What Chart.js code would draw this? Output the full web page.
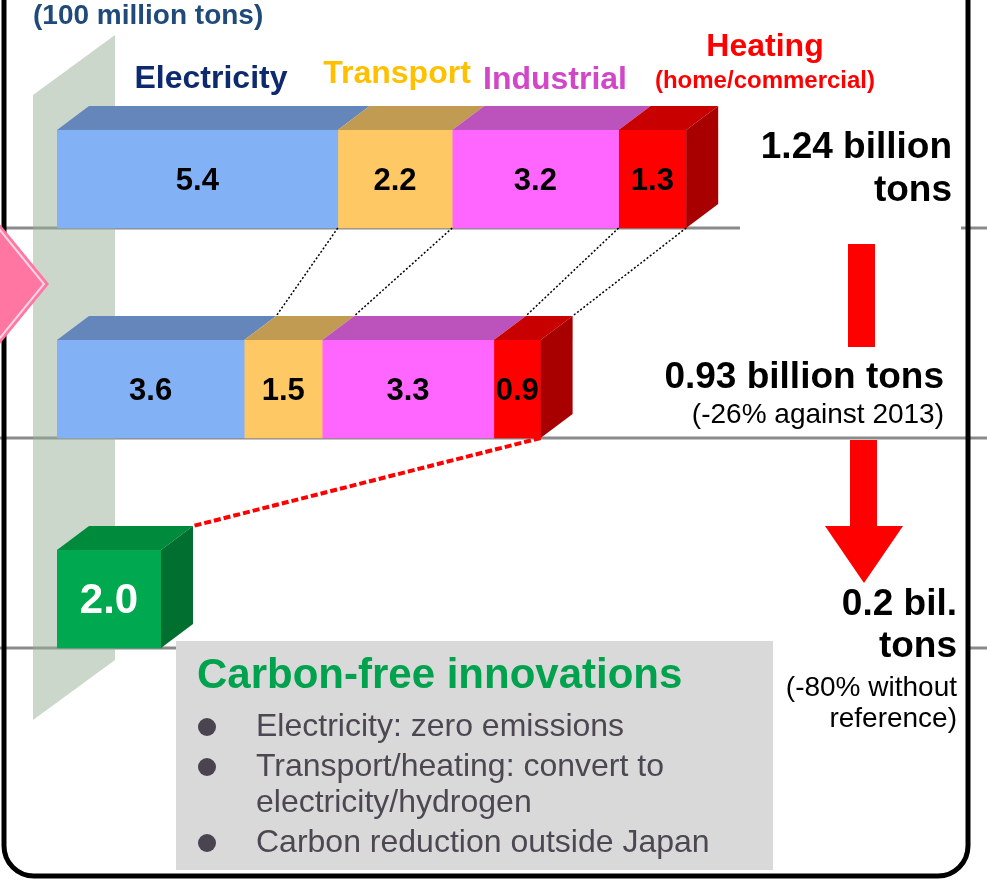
<!DOCTYPE html>
<html>
<head>
<meta charset="utf-8">
<script src="https://cdn.jsdelivr.net/npm/chart.js@4/dist/chart.umd.min.js"></script>
<style>
  body { margin: 0; background: #fff; }
  canvas { display: block; }
</style>
</head>
<body>
<canvas id="myChart" width="987" height="880"></canvas>
<script>
const categories = ['2013', '2030', '2050'];
const seriesNames = ['Electricity', 'Transport', 'Industrial', 'Heating', 'Carbon-free'];
const electricity = [5.4, 3.6, null];
const transport = [2.2, 1.5, null];
const industrial = [3.2, 3.3, null];
const heating = [1.3, 0.9, null];
const carbonFree = [null, null, 2.0];
const totalLines = [
    ['1.24 billion', 'tons'],
    ['0.93 billion tons', '(-26% against 2013)'],
    ['0.2 bil.', 'tons', '(-80% without', 'reference)']
];
const bullets = ['Electricity: zero emissions', 'Transport/heating: convert to', 'electricity/hydrogen', 'Carbon reduction outside Japan'];

const frontColors = ['#82b1f5', '#fec864', '#ff66ff', '#ff0000', '#00a84f'];
const topColors = ['#6586bb', '#c19b51', '#bc52bc', '#c80000', '#008a3c'];
const sideColors = ['#6586bb', '#c19b51', '#bc52bc', '#a80000', '#006f30'];
const FONT = '"Liberation Sans", Arial, sans-serif';
const DX = 32, DY = 24;

function text(ctx, str, x, y, size, color, align, bold) {
    ctx.font = (bold ? 'bold ' : '') + size + 'px ' + FONT;
    ctx.fillStyle = color;
    ctx.textAlign = align;
    ctx.textBaseline = 'middle';
    ctx.fillText(str, x, y);
}

function rowBars(chart, row) {
    const out = [];
    chart.data.datasets.forEach(function (ds, i) {
        const v = ds.data[row];
        if (v == null) return;
        const el = chart.getDatasetMeta(i).data[row];
        const p = el.getProps(['x', 'y', 'base', 'height'], true);
        out.push({ i: i, v: v, x0: p.base, x1: p.x, top: p.y - p.height / 2, bottom: p.y + p.height / 2 });
    });
    return out;
}

const decor = {
    id: 'decor',
    beforeDatasetsDraw(chart) {
        const ctx = chart.ctx;
        ctx.save();
        ctx.fillStyle = '#fff';
        ctx.fillRect(0, 0, chart.width, chart.height);

        // base lines under each row
        ctx.strokeStyle = '#8a8a8a';
        ctx.lineWidth = 3;
        const gaps = [[[0, 740], [961, 987]], [[0, 987]], [[0, 176], [970, 987]]];
        categories.forEach(function (c, r) {
            const bars = rowBars(chart, r);
            const y = bars[0].bottom;
            gaps[r].forEach(function (s) {
                ctx.beginPath(); ctx.moveTo(s[0], y); ctx.lineTo(s[1], y); ctx.stroke();
            });
        });

        // frame
        ctx.strokeStyle = '#000';
        ctx.lineWidth = 5;
        const r = 30;
        ctx.beginPath();
        ctx.moveTo(4, -10);
        ctx.lineTo(4, 876 - r);
        ctx.arcTo(4, 876, 4 + r, 876, r);
        ctx.lineTo(968 - r, 876);
        ctx.arcTo(968, 876, 968, 876 - r, r);
        ctx.lineTo(968, -10);
        ctx.stroke();

        // translucent wall
        ctx.fillStyle = 'rgba(150, 176, 150, 0.5)';
        ctx.beginPath();
        ctx.moveTo(33, 95); ctx.lineTo(115, 35); ctx.lineTo(115, 660); ctx.lineTo(33, 720);
        ctx.closePath(); ctx.fill();

        // pink marker on the left
        ctx.fillStyle = '#ff76a3';
        ctx.beginPath();
        ctx.moveTo(-20, 200); ctx.lineTo(49, 284); ctx.lineTo(-20, 368);
        ctx.closePath(); ctx.fill();
        ctx.strokeStyle = '#ffd6e4';
        ctx.lineWidth = 2;
        ctx.beginPath();
        ctx.moveTo(-14, 213); ctx.lineTo(44, 284); ctx.lineTo(-14, 355);
        ctx.stroke();
        ctx.restore();
    },
    afterDatasetsDraw(chart) {
        const ctx = chart.ctx;
        ctx.save();
        const rows = categories.map(function (c, r) { return rowBars(chart, r); });

        // 3d faces and value labels
        rows.forEach(function (bars) {
            bars.forEach(function (b, k) {
                ctx.fillStyle = topColors[b.i];
                ctx.beginPath();
                ctx.moveTo(b.x0, b.top); ctx.lineTo(b.x1, b.top);
                ctx.lineTo(b.x1 + DX, b.top - DY); ctx.lineTo(b.x0 + DX, b.top - DY);
                ctx.closePath(); ctx.fill();
                if (k === bars.length - 1) {
                    ctx.fillStyle = sideColors[b.i];
                    ctx.beginPath();
                    ctx.moveTo(b.x1, b.top); ctx.lineTo(b.x1 + DX, b.top - DY);
                    ctx.lineTo(b.x1 + DX, b.bottom - DY); ctx.lineTo(b.x1, b.bottom);
                    ctx.closePath(); ctx.fill();
                }
                const cx = (b.x0 + b.x1) / 2, cy = (b.top + b.bottom) / 2 + 2;
                if (b.i === 4) text(ctx, b.v.toFixed(1), cx, cy, 42, '#fff', 'center', true);
                else text(ctx, b.v.toFixed(1), cx, cy, 31, '#000', 'center', true);
            });
        });

        // dotted connectors between the first two rows
        ctx.strokeStyle = '#000';
        ctx.lineWidth = 1.5;
        ctx.setLineDash([2, 2]);
        rows[0].forEach(function (b, k) {
            if (k === 0) return;
            const a = rows[0][k - 1];
            const t = rows[1][k - 1];
            ctx.beginPath(); ctx.moveTo(a.x1, a.bottom); ctx.lineTo(t.x1 + DX, t.top - DY); ctx.stroke();
        });
        const l0 = rows[0][rows[0].length - 1], l1 = rows[1][rows[1].length - 1];
        ctx.beginPath(); ctx.moveTo(l0.x1, l0.bottom); ctx.lineTo(l1.x1 + DX, l1.top - DY); ctx.stroke();

        // red dashed connector to the last row
        const g = rows[2][0];
        ctx.strokeStyle = '#ff0000';
        ctx.lineWidth = 4;
        ctx.setLineDash([7, 3]);
        ctx.beginPath(); ctx.moveTo(l1.x1, l1.bottom); ctx.lineTo(g.x1 + DX, g.top - DY); ctx.stroke();
        ctx.setLineDash([]);
        ctx.restore();
    },
    afterDraw(chart) {
        const ctx = chart.ctx;
        ctx.save();
        text(ctx, '(100 million tons)', 33, 16, 28, '#1f4a7a', 'left', true);
        text(ctx, seriesNames[0], 211, 79, 32, '#0d2a6e', 'center', true);
        text(ctx, seriesNames[1], 397, 74, 32, '#ffc000', 'center', true);
        text(ctx, seriesNames[2], 555, 80, 32, '#d247c8', 'center', true);
        text(ctx, seriesNames[3], 765, 47, 32, '#ff0000', 'center', true);
        text(ctx, '(home/commercial)', 765, 81, 24, '#ff0000', 'center', true);

        text(ctx, totalLines[0][0], 952, 148, 37, '#000', 'right', true);
        text(ctx, totalLines[0][1], 952, 191, 37, '#000', 'right', true);
        text(ctx, totalLines[1][0], 944, 378, 37, '#000', 'right', true);
        text(ctx, totalLines[1][1], 944, 415, 28, '#000', 'right', false);
        text(ctx, totalLines[2][0], 957, 605, 37, '#000', 'right', true);
        text(ctx, totalLines[2][1], 957, 647, 37, '#000', 'right', true);
        text(ctx, totalLines[2][2], 957, 688, 28, '#000', 'right', false);
        text(ctx, totalLines[2][3], 957, 719, 28, '#000', 'right', false);

        // red arrow
        ctx.fillStyle = '#ff0000';
        ctx.fillRect(848, 244, 27, 103);
        ctx.fillRect(850, 440, 27, 87);
        ctx.beginPath();
        ctx.moveTo(825, 526); ctx.lineTo(903, 526); ctx.lineTo(864, 583);
        ctx.closePath(); ctx.fill();

        // note box
        ctx.fillStyle = '#d9d9d9';
        ctx.fillRect(176, 641, 597, 229);
        text(ctx, 'Carbon-free innovations', 197, 676, 42, '#00a24e', 'left', true);
        const ys = [727, 767, 803, 843];
        bullets.forEach(function (b, k) {
            if (k !== 2) {
                ctx.fillStyle = '#4a4450';
                ctx.beginPath(); ctx.arc(207, ys[k], 9, 0, Math.PI * 2); ctx.fill();
            }
            text(ctx, b, 256, ys[k], 32, '#4d4752', 'left', false);
        });
        ctx.restore();
    }
};

const ctx = document.getElementById('myChart').getContext('2d');
const seriesData = [electricity, transport, industrial, heating, carbonFree];
const myChart = new Chart(ctx, {
    type: 'bar',
    data: {
        labels: categories,
        datasets: seriesData.map(function (d, i) {
            return {
                label: seriesNames[i],
                data: d,
                backgroundColor: frontColors[i],
                borderWidth: 0,
                barThickness: 98
            };
        })
    },
    options: {
        indexAxis: 'y',
        responsive: false,
        animation: false,
        layout: { padding: { left: 57, right: 20, top: 74, bottom: 176 } },
        scales: {
            x: { stacked: true, min: 0, max: 17.5, display: false },
            y: { stacked: true, display: false }
        },
        plugins: {
            legend: { display: false },
            tooltip: { enabled: false }
        }
    },
    plugins: [decor]
});
</script>
</body>
</html>
